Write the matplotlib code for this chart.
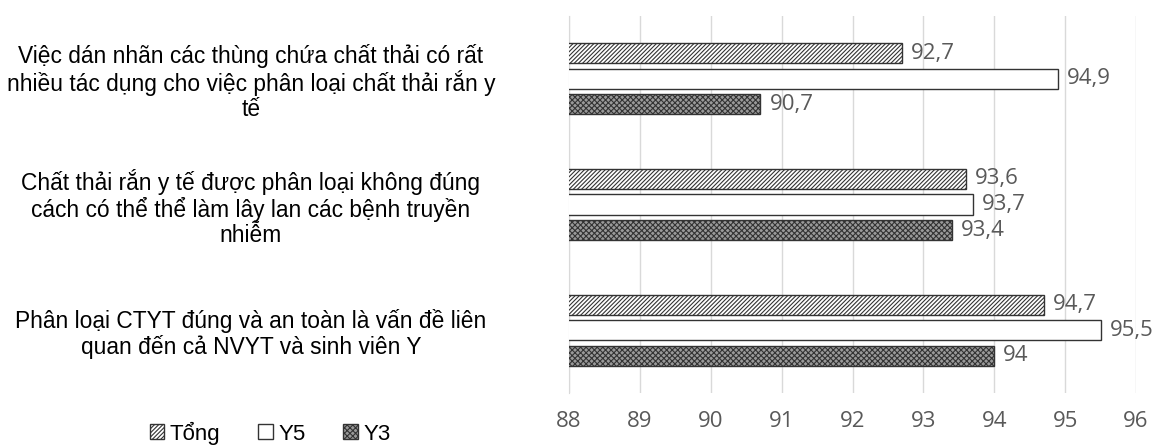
import matplotlib
matplotlib.use("Agg")
import matplotlib.pyplot as plt
import numpy as np

categories = [
    "Phân loại CTYT đúng và an toàn là vấn đề liên\nquan đến cả NVYT và sinh viên Y",
    "Chất thải rắn y tế được phân loại không đúng\ncách có thể thể làm lây lan các bệnh truyền\nnhiễm",
    "Việc dán nhãn các thùng chứa chất thải có rất\nnhiều tác dụng cho việc phân loại chất thải rắn y\ntế",
]
series_names = ["Tổng", "Y5", "Y3"]
tong = [94.7, 93.6, 92.7]
y5 = [95.5, 93.7, 94.9]
y3 = [94.0, 93.4, 90.7]
value_labels_tong = ["94,7", "93,6", "92,7"]
value_labels_y5 = ["95,5", "93,7", "94,9"]
value_labels_y3 = ["94", "93,4", "90,7"]
xticks = [88, 89, 90, 91, 92, 93, 94, 95, 96]

plt.rcParams['hatch.linewidth'] = 0.8
plt.rcParams['hatch.color'] = '#333333'

fig = plt.figure(figsize=(11.53, 4.46), dpi=100)
ax = fig.add_axes([569/1153, 1 - 393/446, (1136-569)/1153, (393-16)/446])

y = np.arange(len(categories))
off = 0.203
h = 0.16
edge = '#333333'
b1 = ax.barh(y + off, tong, height=h, facecolor='white', edgecolor=edge, hatch='////////', linewidth=1.0, label="Tổng", zorder=3)
b2 = ax.barh(y, y5, height=h, facecolor='white', edgecolor=edge, linewidth=1.0, label="Y5", zorder=3)
b3 = ax.barh(y - off, y3, height=h, facecolor='#9a9a9a', edgecolor=edge, hatch='xxxxxx', linewidth=1.0, label="Y3", zorder=3)

for bars, labs in ((b1, value_labels_tong), (b2, value_labels_y5), (b3, value_labels_y3)):
    ax.bar_label(bars, labels=labs, padding=6.5, fontsize=16, color='#595959', family='Open Sans')

ax.set_xlim(88, 96)
ax.set_ylim(-0.5, 2.5)
ax.set_xticks(xticks)
ax.set_xticklabels([str(t) for t in xticks], fontsize=16, color='#595959', family='Open Sans')
ax.set_yticks(y)
ax.set_yticklabels(categories, fontsize=16.4, family='Liberation Sans', color='black',
                   multialignment='center', ha='center', linespacing=1.1)
ax.tick_params(axis='y', length=0, pad=229)
ax.tick_params(axis='x', length=0, pad=13)
ax.grid(axis='x', color='#d9d9d9', linewidth=1, zorder=0)
for s in ('top', 'right', 'bottom'):
    ax.spines[s].set_visible(False)
ax.spines['left'].set_color('#d9d9d9')
ax.spines['left'].set_zorder(1)

leg = fig.legend(handles=[b1, b2, b3], labels=series_names, loc='center', bbox_to_anchor=(270/1153, 1 - 433/446),
                 ncol=3, frameon=False, prop={'family': 'Liberation Sans', 'size': 16},
                 handlelength=0.65, handleheight=0.65, handletextpad=0.25, columnspacing=1.7,
                 borderaxespad=0, borderpad=0)

fig.savefig("out.png", dpi=100)
